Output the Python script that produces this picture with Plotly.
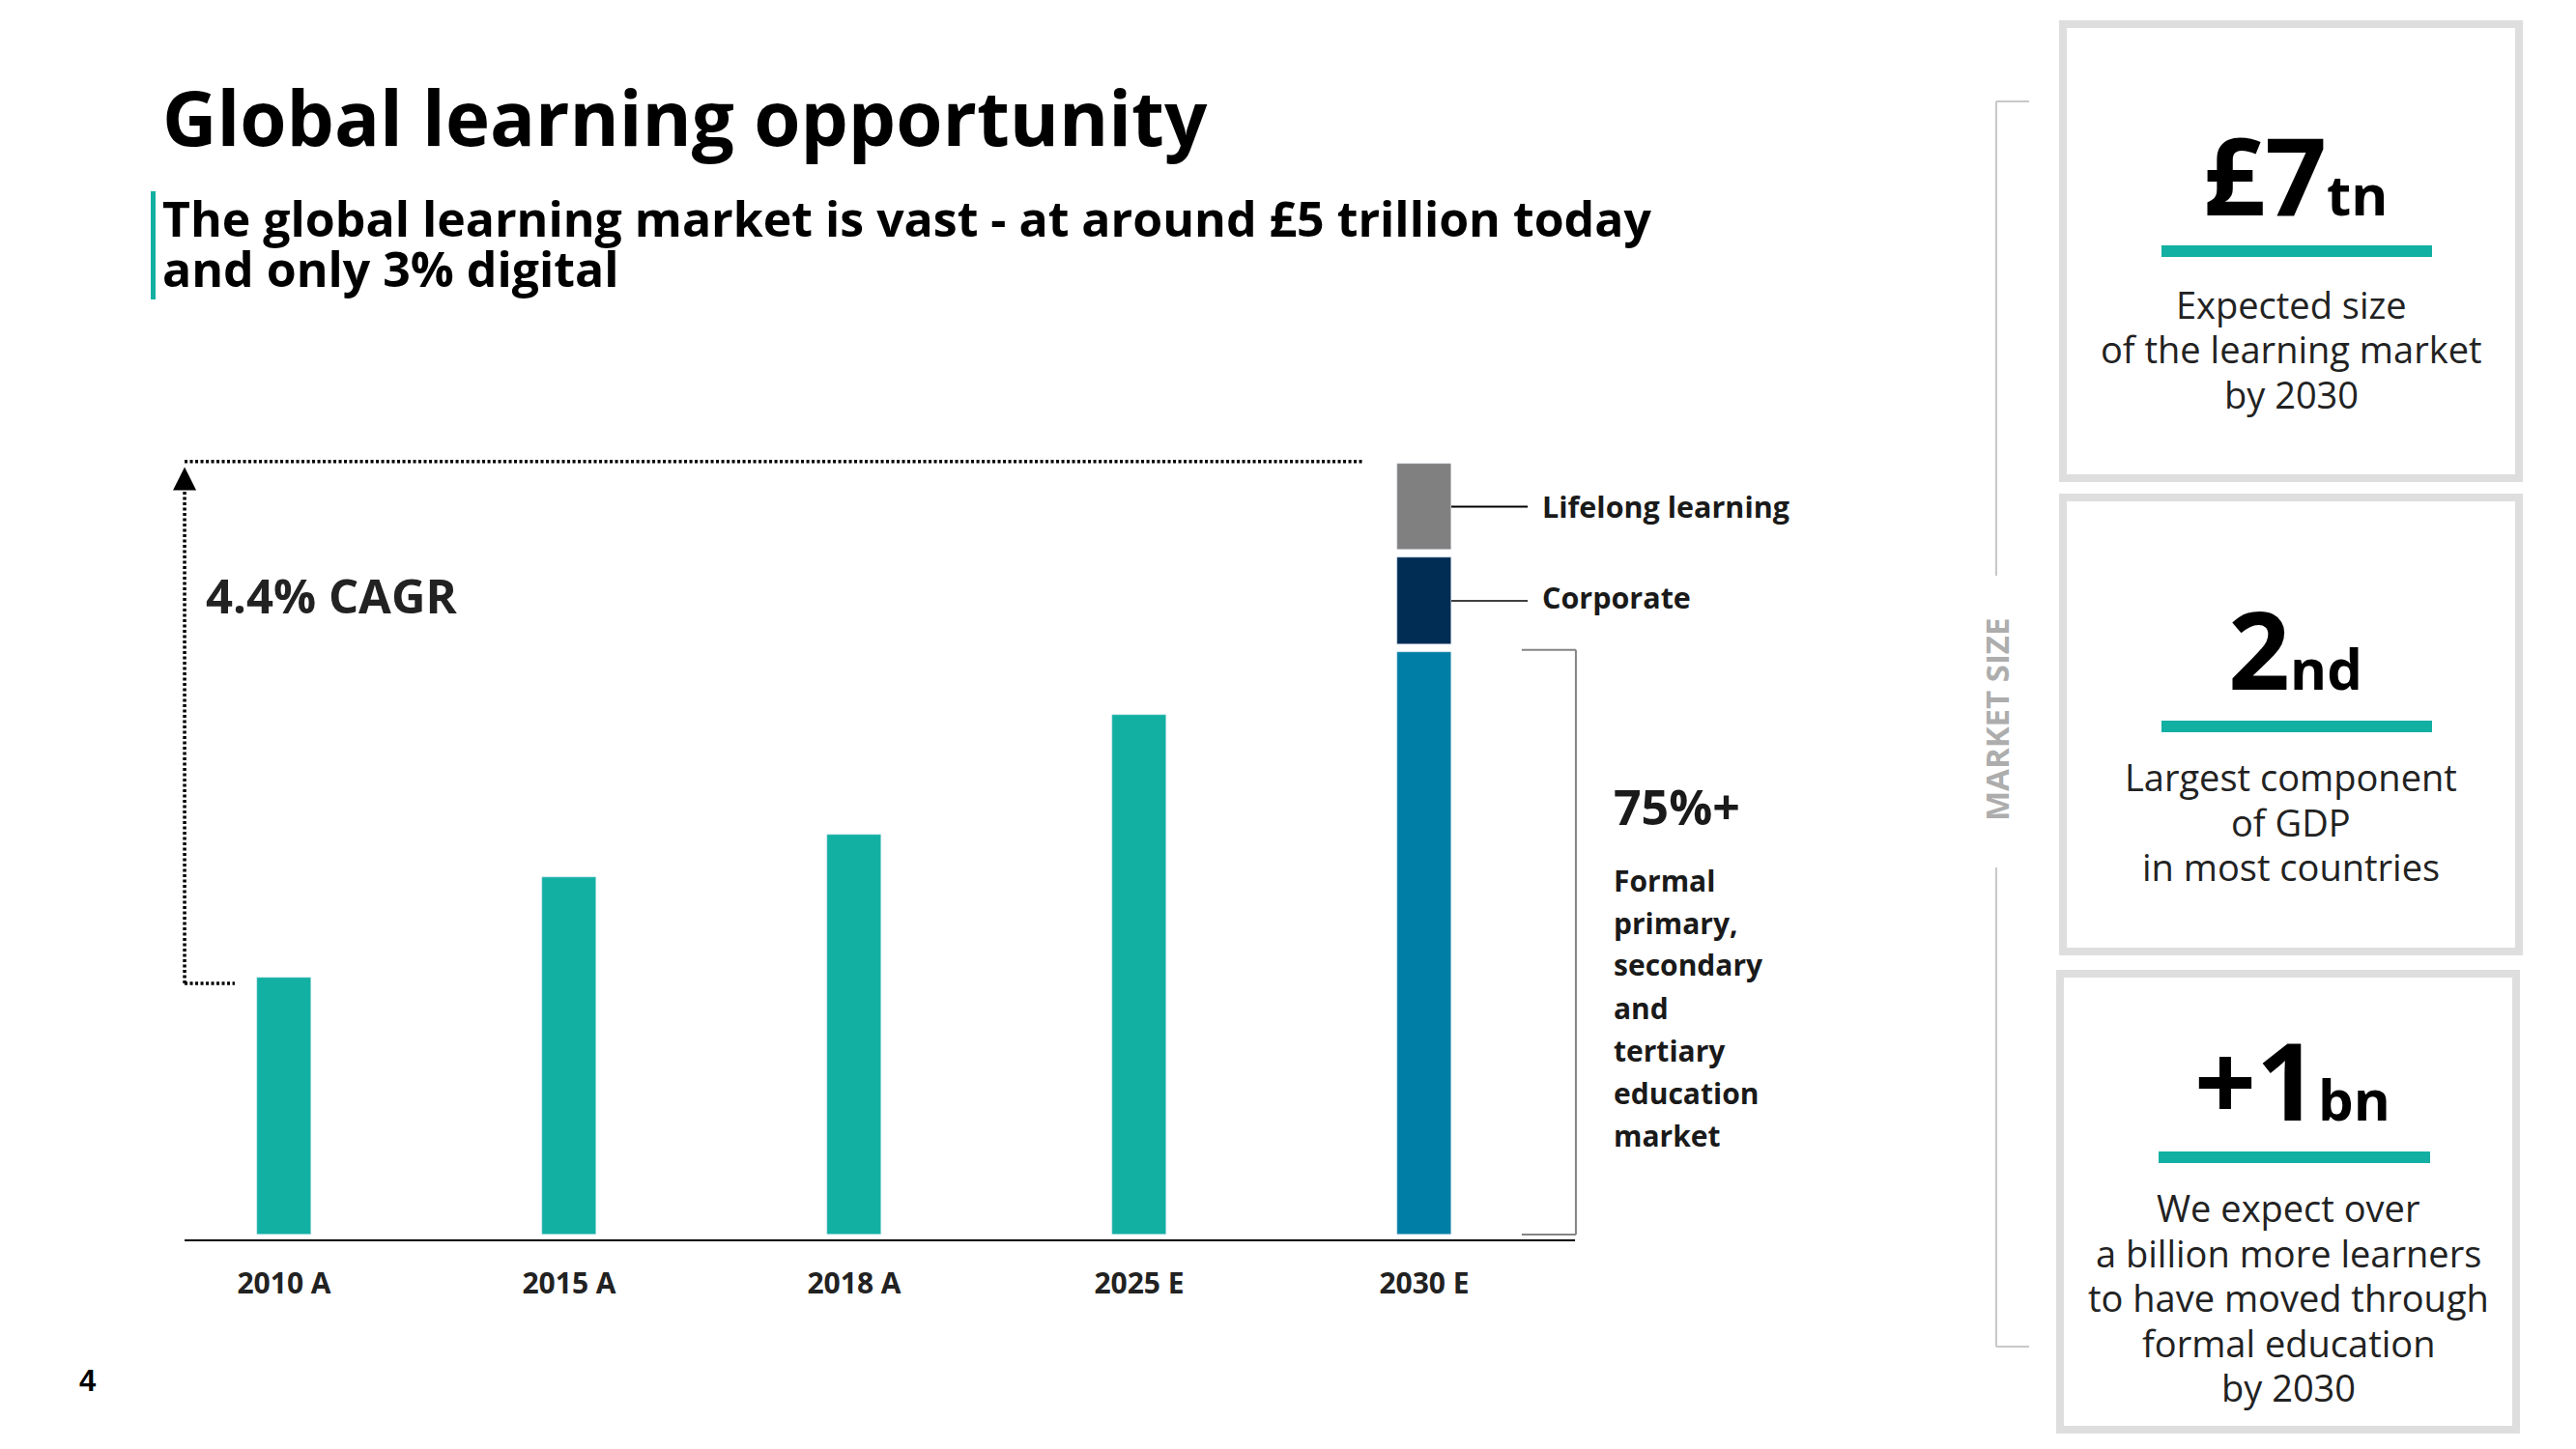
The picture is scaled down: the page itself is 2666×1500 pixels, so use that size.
import plotly.graph_objects as go

# data (market size, £tn)
years = ["2010 A", "2015 A", "2018 A", "2025 E", "2030 E"]
market = [2.33, 3.25, 3.63, 4.72]
formal_2030 = 5.29
corporate_2030 = 0.79
lifelong_2030 = 0.78
seg_gap = 0.07

formal_lines = ["Formal", "primary,", "secondary", "and", "tertiary", "education", "market"]
cards = [
    ("£7", "tn", ["Expected size", "of the learning market", "by 2030"]),
    ("2", "nd", ["Largest component", "of GDP", "in most countries"]),
    ("+1", "bn", ["We expect over", "a billion more learners", "to have moved through",
                  "formal education", "by 2030"]),
]

TEAL = "#12b0a3"
PAGE = 8  # browser body margin
W, H = 2666 - 2 * PAGE, 1500 - 2 * PAGE
FONT = "Open Sans"


def px(x):
    return (x - PAGE) / W


def py(y):
    return 1 - (y - PAGE) / H


# axis geometry (screen pixels)
cat_px, cat0_px = 295, 294
ppu = 114.0
base_px = 1278
x_lo, x_hi = (150 - cat0_px) / cat_px, (1700 - cat0_px) / cat_px
y_lo, y_hi = (base_px - 1300) / ppu, (base_px - 400) / ppu

fig = go.Figure()
fig.add_trace(go.Bar(x=years[:4], y=market, marker_color=TEAL, width=0.19,
                     showlegend=False, hoverinfo="skip"))
corp_base = formal_2030 + seg_gap
life_base = corp_base + corporate_2030 + seg_gap
total_2030 = life_base + lifelong_2030
for val, base, col in [(formal_2030, 0, "#007ea5"),
                       (corporate_2030, corp_base, "#012d55"),
                       (lifelong_2030, life_base, "#808080")]:
    fig.add_trace(go.Bar(x=[years[4]], y=[val], base=[base], marker_color=col,
                         width=0.19, showlegend=False, hoverinfo="skip"))

shapes = []
ann = []

# baseline
shapes.append(dict(type="line", xref="x", yref="y", x0=-0.349, x1=4.529,
                   y0=-6 / ppu, y1=-6 / ppu, line=dict(color="black", width=2)))
# CAGR dotted bracket
dot = dict(color="black", width=3.5, dash="3px,2.5px")
shapes.append(dict(type="line", xref="x", yref="y", x0=-0.349, x1=4 - 0.21,
                   y0=total_2030 + 0.02, y1=total_2030 + 0.02, line=dot))
shapes.append(dict(type="line", xref="x", yref="y", x0=-0.349, x1=-0.349,
                   y0=market[0] - 0.05, y1=total_2030 - 0.14, line=dot))
shapes.append(dict(type="line", xref="x", yref="y", x0=-0.349, x1=-0.173,
                   y0=market[0] - 0.05, y1=market[0] - 0.05, line=dot))
ann.append(dict(xref="x", yref="y", x=-0.349, y=total_2030 - 0.03, ax=0, ay=20,
                showarrow=True, arrowhead=2, arrowsize=1.6, arrowwidth=3,
                arrowcolor="black", text=""))
ann.append(dict(xref="paper", yref="paper", x=px(211), y=py(616), xanchor="left",
                yanchor="middle", showarrow=False, text="4.4% CAGR",
                font=dict(family=FONT, size=49, color="#222", weight=700)))

# segment labels for 2030
for mid, label, lw, shift in [(life_base + lifelong_2030 / 2, "Lifelong learning", 2, 0),
                              (corp_base + corporate_2030 / 2, "Corporate", 1.5, 4)]:
    shapes.append(dict(type="line", xref="x", yref="y", x0=4.095, x1=4.363,
                       y0=mid, y1=mid, line=dict(color="black", width=lw)))
    ann.append(dict(xref="x", yref="y", x=4.407, y=mid, xanchor="left", yshift=shift,
                    yanchor="middle", showarrow=False, text=label,
                    font=dict(family=FONT, size=30.5, color="#1a1a1a", weight=700)))

# formal bracket
gray = dict(color="#858585", width=2)
bx0, bx1 = 4.342, 4.532
shapes.append(dict(type="line", xref="x", yref="y", x0=bx0, x1=bx1,
                   y0=formal_2030 + 0.02, y1=formal_2030 + 0.02, line=gray))
shapes.append(dict(type="line", xref="x", yref="y", x0=bx1, x1=bx1,
                   y0=0, y1=formal_2030 + 0.02, line=gray))
shapes.append(dict(type="line", xref="x", yref="y", x0=bx0, x1=bx1,
                   y0=0, y1=0, line=gray))
ann.append(dict(xref="paper", yref="paper", x=px(1668), y=py(835), xanchor="left",
                yanchor="middle", showarrow=False, text="75%+",
                font=dict(family=FONT, size=50, color="#1a1a1a", weight=700)))
for i, line in enumerate(formal_lines):
    ann.append(dict(xref="paper", yref="paper", x=px(1668), y=py(911 + i * 44),
                    xanchor="left", yanchor="middle", showarrow=False, text=line,
                    font=dict(family=FONT, size=30, color="#1a1a1a", weight=700)))

# title block
ann.append(dict(xref="paper", yref="paper", x=px(166), y=py(121), xanchor="left",
                yanchor="middle", showarrow=False, text="Global learning opportunity",
                font=dict(family=FONT, size=78, color="black", weight=700)))
for i, line in enumerate(["The global learning market is vast - at around £5 trillion today",
                          "and only 3% digital"]):
    ann.append(dict(xref="paper", yref="paper", x=px(166), y=py(226 + i * 52),
                    xanchor="left", yanchor="middle", showarrow=False, text=line,
                    font=dict(family=FONT, size=50, color="black", weight=700)))
shapes.append(dict(type="rect", xref="paper", yref="paper", x0=px(156), x1=px(161),
                   y0=py(198), y1=py(310), fillcolor=TEAL, line_width=0))

# page number
ann.append(dict(xref="paper", yref="paper", x=px(91), y=py(1429), showarrow=False,
                xanchor="center", yanchor="middle", text="4",
                font=dict(family="Liberation Sans", size=31, color="black", weight=700)))

# market size bracket
lg = dict(color="#c8c8c8", width=2)
for y0, y1 in [(105, 596), (898, 1394)]:
    shapes.append(dict(type="line", xref="paper", yref="paper", x0=px(2066), x1=px(2066),
                       y0=py(y0), y1=py(y1), line=lg))
for y in [105, 1394]:
    shapes.append(dict(type="line", xref="paper", yref="paper", x0=px(2066), x1=px(2100),
                       y0=py(y), y1=py(y), line=lg))
ann.append(dict(xref="paper", yref="paper", x=px(2066), y=py(745), showarrow=False,
                xanchor="center", yanchor="middle", textangle=-90, text="MARKET SIZE",
                font=dict(family=FONT, size=33, color="#adadad", weight=700)))

# cards
boxes = [(2135, 2607, 25, 495), (2135, 2607, 515, 985), (2132, 2604, 1008, 1480)]
baselines = [223, 714, 1160]
bars = [(2237, 2517, 254, 266), (2237, 2517, 746, 758), (2234, 2515, 1192, 1204)]
text_tops = [315, 804, 1250]
for (big, small, lines), (x0, x1, y0, y1), bl, (tx0, tx1, ty0, ty1), tt in zip(
        cards, boxes, baselines, bars, text_tops):
    shapes.append(dict(type="rect", xref="paper", yref="paper", x0=px(x0), x1=px(x1),
                       y0=py(y0), y1=py(y1), line=dict(color="#dedede", width=8)))
    shapes.append(dict(type="rect", xref="paper", yref="paper", x0=px(tx0), x1=px(tx1),
                       y0=py(ty0), y1=py(ty1), fillcolor=TEAL, line_width=0))
    cx = (x0 + x1) / 2
    ann.append(dict(xref="paper", yref="paper", x=px(cx + 4), y=py(bl - 0.388 * 112),
                    xanchor="center", yanchor="middle", showarrow=False,
                    text=f'{big}<span style="font-size:58px">{small}</span>',
                    font=dict(family=FONT, size=112, color="black", weight=700)))
    for i, line in enumerate(lines):
        ann.append(dict(xref="paper", yref="paper", x=px(cx), y=py(tt + i * 46.5),
                        xanchor="center", yanchor="middle", showarrow=False, text=line,
                        font=dict(family=FONT, size=38, color="#222")))

fig.update_layout(
    width=W, height=H,
    margin=dict(l=0, r=0, t=0, b=0),
    paper_bgcolor="white", plot_bgcolor="rgba(0,0,0,0)",
    bargap=0, barmode="overlay",
    shapes=shapes, annotations=ann,
    xaxis=dict(domain=[px(150), px(1700)], range=[x_lo, x_hi], type="category",
               showgrid=False, zeroline=False, showline=False, ticks="",
               ticklabelstandoff=8,
               tickfont=dict(family=FONT, size=30, color="#222", weight=700)),
    yaxis=dict(domain=[py(1300), py(400)], range=[y_lo, y_hi], visible=False,
               showgrid=False, zeroline=False),
)

fig.write_html("out.html")
